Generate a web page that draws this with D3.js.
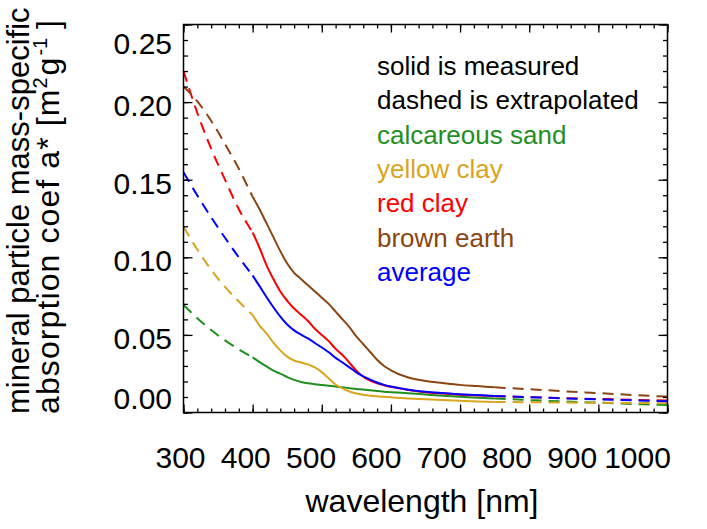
<!DOCTYPE html>
<html>
<head>
<meta charset="utf-8">
<script src="https://cdn.jsdelivr.net/npm/d3@7/dist/d3.min.js"></script>
<style>
  body { margin: 0; background: #fff; }
  text { font-family: "Liberation Sans", Arial, Helvetica, sans-serif; }
</style>
</head>
<body>
<svg id="chart" width="707" height="529"></svg>
<script>
// wavelengths [nm]
var wlBlue = [300, 320, 340, 360, 380, 400];          // extrapolated, short side
var wlMeas = [400, 410, 420, 430, 440, 450, 460, 470, 480, 490, 500, 510, 520, 530,
              540, 550, 560, 570, 580, 590, 600, 625, 650, 675, 700, 725, 750];
var wlRed  = [750, 800, 850, 900, 950, 1000];         // extrapolated, long side

var names  = ["calcareous sand", "yellow clay", "red clay", "brown earth", "average"];
var colors = ["#1f8f1f", "#d9a520", "#ff0000", "#8b4513", "#0000ff"];

// a* values [m2 g-1]
var sandLo  = [0.0693, 0.0608, 0.0531, 0.0465, 0.0407, 0.0355];
var sand    = [0.0355, 0.0325, 0.0297, 0.027, 0.025, 0.0228, 0.021, 0.0197, 0.0188, 0.0182, 0.0177, 0.0172, 0.0168, 0.0162,
               0.0157, 0.0152, 0.0148, 0.0143, 0.0138, 0.0134, 0.0131, 0.0124, 0.0116, 0.0108, 0.0101, 0.0095, 0.009];
var sandHi  = [0.009, 0.008, 0.0071, 0.0063, 0.0055, 0.0048];

var yellowLo = [0.1197, 0.105, 0.092, 0.081, 0.0715, 0.0628];
var yellow   = [0.0628, 0.056, 0.051, 0.045, 0.040, 0.036, 0.0335, 0.0322, 0.031, 0.029, 0.026, 0.022, 0.018, 0.0155,
                0.0135, 0.0122, 0.0114, 0.0108, 0.0104, 0.0101, 0.0098, 0.0091, 0.0085, 0.008, 0.0075, 0.0071, 0.0068];
var yellowHi = [0.0068, 0.0066, 0.0064, 0.0063, 0.0061, 0.006];

var redLo = [0.220, 0.193, 0.170, 0.150, 0.131, 0.116];
var red   = [0.116, 0.106, 0.095, 0.086, 0.078, 0.072, 0.067, 0.063, 0.059, 0.054, 0.050, 0.046, 0.041, 0.037,
             0.032, 0.027, 0.023, 0.0205, 0.0188, 0.0175, 0.0165, 0.0146, 0.013, 0.0122, 0.0115, 0.011, 0.0105];
var redHi = [0.0105, 0.0099, 0.0093, 0.0087, 0.0082, 0.0077];

var brownLo = [0.210, 0.2005, 0.188, 0.173, 0.157, 0.139];
var brown   = [0.139, 0.131, 0.122, 0.113, 0.104, 0.096, 0.090, 0.086, 0.082, 0.078, 0.074, 0.070, 0.065, 0.060,
               0.055, 0.049, 0.044, 0.039, 0.034, 0.030, 0.0272, 0.0225, 0.0203, 0.019, 0.0178, 0.017, 0.0162];
var brownHi = [0.0162, 0.015, 0.0137, 0.0125, 0.0113, 0.0102];

var avgLo = [0.1548, 0.1398, 0.1258, 0.1126, 0.100, 0.0883];
var avg   = [0.0883, 0.0814, 0.0744, 0.0678, 0.0618, 0.0567, 0.0529, 0.0502, 0.0477, 0.0448, 0.0419, 0.0388, 0.0352, 0.0322,
             0.0291, 0.0259, 0.0233, 0.0212, 0.0193, 0.0178, 0.0167, 0.0147, 0.0134, 0.0125, 0.0117, 0.0112, 0.0106];
var avgHi = [0.0106, 0.0099, 0.0091, 0.0085, 0.0078, 0.0072];

var xTicks = [300, 400, 500, 600, 700, 800, 900, 1000];
var yTicks = [0.00, 0.05, 0.10, 0.15, 0.20, 0.25];

var series = [
  [sandLo, sand, sandHi],
  [yellowLo, yellow, yellowHi],
  [redLo, red, redHi],
  [brownLo, brown, brownHi],
  [avgLo, avg, avgHi]
];

var svg = d3.select("#chart");
var x = d3.scaleLinear().domain([300, 1000]).range([183.5, 667.5]);
var y = d3.scaleLinear().domain([0, 0.25]).range([412.5, 24.5]);
// the tick numbers in the original sit a bit off their ticks
var xLab = d3.scaleLinear().domain([300, 1000]).range([180, 637]);

var line = d3.line()
  .x(function(d) { return x(d[0]); })
  .y(function(d) { return y(d[1]); })
  .curve(d3.curveMonotoneX);

var curves = svg.append("g");
series.forEach(function(s, i) {
  var parts = [[wlBlue, s[0], true], [wlMeas, s[1], false], [wlRed, s[2], true]];
  parts.forEach(function(p) {
    var pts = p[0].map(function(w, j) { return [w, p[1][j]]; });
    curves.append("path")
      .attr("d", line(pts))
      .attr("fill", "none")
      .attr("stroke", colors[i])
      .attr("stroke-width", 2)
      .attr("stroke-dasharray", p[2] ? "11,7" : null);
  });
});

// frame
svg.append("rect")
  .attr("x", x(300)).attr("y", y(0.25))
  .attr("width", x(1000) - x(300)).attr("height", y(0) - y(0.25))
  .attr("fill", "none").attr("stroke", "#000").attr("stroke-width", 1.5);

// inward ticks on all four sides
function ticks(axis, values, size, tr) {
  svg.append("g").attr("transform", tr)
    .call(axis.tickValues(values).tickSize(size).tickFormat(""))
    .call(function(g) { g.select(".domain").remove(); g.selectAll("line").attr("stroke", "#000").attr("stroke-width", 1.3); });
}
var xMinor = d3.range(300, 1001, 20);
var yMinor = d3.range(0, 0.2501, 0.01);
ticks(d3.axisBottom(x), xTicks, -8, "translate(0," + y(0) + ")");
ticks(d3.axisBottom(x), xMinor, -4, "translate(0," + y(0) + ")");
ticks(d3.axisTop(x), xTicks, -8, "translate(0," + y(0.25) + ")");
ticks(d3.axisTop(x), xMinor, -4, "translate(0," + y(0.25) + ")");
ticks(d3.axisLeft(y), yTicks, -9, "translate(" + x(300) + ",0)");
ticks(d3.axisLeft(y), yMinor, -4.5, "translate(" + x(300) + ",0)");
ticks(d3.axisRight(y), yTicks, -9, "translate(" + x(1000) + ",0)");
ticks(d3.axisRight(y), yMinor, -4.5, "translate(" + x(1000) + ",0)");

// tick labels
svg.append("g").attr("transform", "translate(0,468)")
  .call(d3.axisBottom(xLab).tickValues(xTicks).tickSize(0).tickFormat(d3.format("d")))
  .call(function(g) {
    g.select(".domain").remove();
    g.selectAll("text").attr("y", 0).attr("dy", 0)
      .attr("font-size", 30).attr("font-family", null).attr("fill", "#000");
  });

svg.append("g").attr("transform", "translate(" + x(300) + ",0)")
  .call(d3.axisLeft(y).tickValues(yTicks).tickSize(0).tickPadding(11.5).tickFormat(d3.format(".2f")))
  .call(function(g) {
    g.select(".domain").remove();
    g.selectAll("text").attr("dy", "13.5px")
      .attr("font-size", 30).attr("font-family", null).attr("fill", "#000")
      .attr("transform", function(d) { return d === 0.25 ? "translate(0,15.5)" : d === 0 ? "translate(0,-17.5)" : null; });
  });

// axis titles
svg.append("text")
  .attr("x", 422).attr("y", 512)
  .attr("text-anchor", "middle").attr("font-size", 32)
  .text("wavelength [nm]");

svg.append("text")
  .attr("transform", "translate(29,414) rotate(-90)")
  .attr("font-size", 31)
  .text("mineral particle mass-specific");

var t2 = svg.append("text")
  .attr("transform", "translate(59,414) rotate(-90)")
  .attr("font-size", 32);
t2.append("tspan").attr("letter-spacing", 1.1).text("absorption coef a* [m");
t2.append("tspan").attr("font-size", 20).attr("dy", -12).text("2");
t2.append("tspan").attr("dy", 12).attr("dx", 2).text("g");
t2.append("tspan").attr("font-size", 20).attr("dy", -12).attr("dx", 2).text("-1");
t2.append("tspan").attr("dy", 12).text(" ]");

// legend
var legendText = ["solid is measured", "dashed is extrapolated"].concat(names);
var legendColor = ["#000", "#000"].concat(colors);
svg.append("g").selectAll("text")
  .data(legendText)
  .enter().append("text")
  .attr("x", 377)
  .attr("y", function(d, i) { return 75 + i * 34.3; })
  .attr("font-size", 26)
  .attr("fill", function(d, i) { return legendColor[i]; })
  .text(function(d) { return d; });
</script>
</body>
</html>
